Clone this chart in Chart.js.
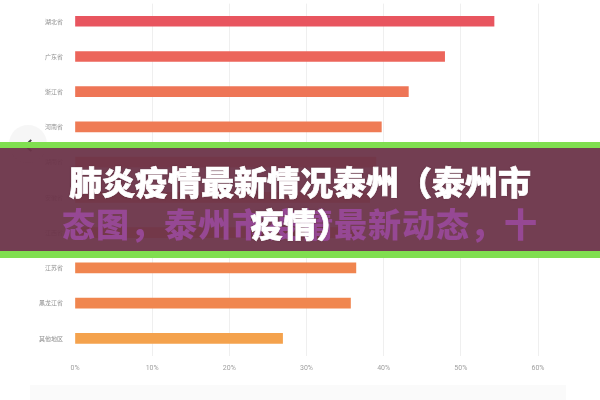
<!DOCTYPE html>
<html>
<head>
<meta charset="utf-8">
<script src="https://cdn.jsdelivr.net/npm/chart.js@4"></script>
<style>
    html, body { margin: 0; padding: 0; background: #fff; }
    body { width: 600px; height: 400px; position: relative; overflow: hidden; font-family: "Noto Sans CJK SC", sans-serif; }
    #wrap { position: absolute; left: 0; top: -4px; width: 600px; height: 390px; }
    #foot { position: absolute; left: 30px; top: 385px; width: 536px; height: 15px; background: #fafafa; }
    #arrow { position: absolute; left: 9px; top: 125px; width: 38px; height: 38px; border-radius: 50%; background: rgba(238,238,238,0.55); }
    #arrow:after { content: ""; position: absolute; left: 17px; top: 16px; width: 7px; height: 7px; border-left: 2px solid #444; border-bottom: 2px solid #444; transform: rotate(45deg); }
    #banner { position: absolute; left: 0; top: 142px; width: 600px; height: 103px; background: rgba(108,52,73,0.95); border-top: 6px solid rgb(128,222,80); border-bottom: 7px solid rgb(128,222,80); }
    .line { position: absolute; left: 0; width: 600px; text-align: center; font-weight: 900; font-size: 33px; line-height: 40px; white-space: nowrap; }
    #l1 { top: 13px; color: #fff; -webkit-text-stroke: 0.7px #fff; text-shadow: 0 0 2px rgba(40,0,20,0.5); }
    #l2 { top: 55px; color: #fff; -webkit-text-stroke: 0.7px #fff; text-shadow: 0 0 2px rgba(40,0,20,0.5); }
    #ghost { top: 55px; color: rgb(150,72,148); letter-spacing: 1px; }
</style>
</head>
<body>
<div id="wrap"><canvas id="chart"></canvas></div>
<div id="foot"></div>
<div id="arrow"></div>
<div id="banner">
    <div class="line" id="ghost">态图，泰州市疫情最新动态，十</div>
    <div class="line" id="l1">肺炎疫情最新情况泰州（泰州市</div>
    <div class="line" id="l2">疫情）</div>
</div>
<script>
    // values, top bar first
    var categories = ['湖北省', '广东省', '浙江省', '河南省', '湖南省', '安徽省', '江西省', '江苏省', '黑龙江省', '其他地区'];
    var shares = [54.3, 47.9, 43.2, 39.7, 39.0, 38.2, 37.0, 36.4, 35.7, 26.9];
    var barColors = ['#e8555f', '#ec655b', '#ee7556', '#ef7b55', '#f07f53', '#f08151', '#f08350', '#f0854f', '#f0864f', '#f4a24d'];
    var xTicks = [0, 10, 20, 30, 40, 50, 60];

    new Chart(document.getElementById('chart'), {
        type: 'bar',
        data: {
            labels: categories,
            datasets: [{
                data: shares,
                backgroundColor: barColors,
                barThickness: 10,
                borderWidth: 0
            }]
        },
        options: {
            indexAxis: 'y',
            responsive: true,
            maintainAspectRatio: false,
            animation: false,
            layout: { padding: { left: 0, right: 62, top: 0, bottom: 0 } },
            plugins: { legend: { display: false }, tooltip: { enabled: false } },
            scales: {
                x: {
                    min: xTicks[0],
                    max: xTicks[xTicks.length - 1],
                    afterBuildTicks: function(scale) {
                        scale.ticks = xTicks.map(function(v) { return { value: v }; });
                    },
                    afterFit: function(scale) { scale.height = 30; },
                    border: { display: false },
                    grid: {
                        drawTicks: false,
                        color: function(ctx) { return ctx.tick && ctx.tick.value === 0 ? 'rgba(0,0,0,0)' : '#efefef'; }
                    },
                    ticks: {
                        padding: 8,
                        color: '#a0a0a0',
                        font: { size: 7, family: 'Roboto' },
                        callback: function(v) { return v + '%'; }
                    }
                },
                y: {
                    afterFit: function(scale) { scale.width = 75; },
                    border: { display: false },
                    grid: { display: false },
                    ticks: {
                        padding: 4,
                        color: '#909090',
                        font: { size: 6, family: 'Noto Sans CJK SC' }
                    }
                }
            }
        }
    });
</script>
</body>
</html>
